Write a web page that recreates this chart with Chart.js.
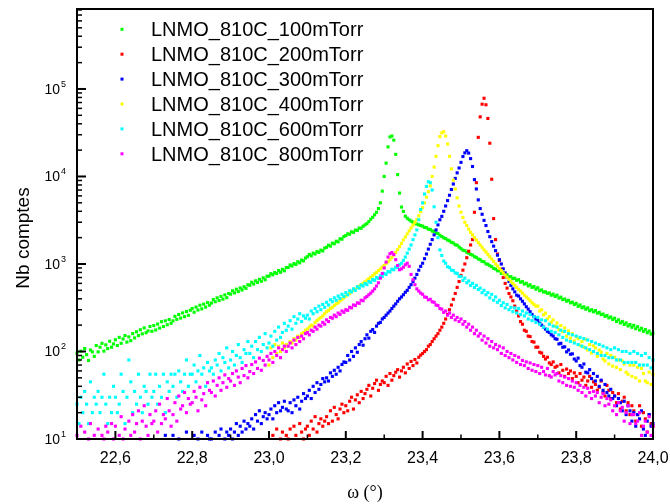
<!DOCTYPE html>
<html>
<head>
<meta charset="utf-8">
<script src="https://cdn.jsdelivr.net/npm/chart.js@4.4.1/dist/chart.umd.min.js"></script>
<style>
  html, body { margin: 0; padding: 0; background: #fff; }
  #wrap { width: 670px; height: 504px; }
</style>
</head>
<body>
<div id="wrap"><canvas id="rc" width="670" height="504"></canvas></div>
<script>
// ── SCAN GRID (omega, degrees) ───────────────────────────────────────────────
const omega = [
  22.500, 22.505, 22.510, 22.515, 22.520, 22.525, 22.530, 22.535, 22.540, 22.545,
  22.550, 22.555, 22.560, 22.565, 22.570, 22.575, 22.580, 22.585, 22.590, 22.595,
  22.600, 22.605, 22.610, 22.615, 22.620, 22.625, 22.630, 22.635, 22.640, 22.645,
  22.650, 22.655, 22.660, 22.665, 22.670, 22.675, 22.680, 22.685, 22.690, 22.695,
  22.700, 22.705, 22.710, 22.715, 22.720, 22.725, 22.730, 22.735, 22.740, 22.745,
  22.750, 22.755, 22.760, 22.765, 22.770, 22.775, 22.780, 22.785, 22.790, 22.795,
  22.800, 22.805, 22.810, 22.815, 22.820, 22.825, 22.830, 22.835, 22.840, 22.845,
  22.850, 22.855, 22.860, 22.865, 22.870, 22.875, 22.880, 22.885, 22.890, 22.895,
  22.900, 22.905, 22.910, 22.915, 22.920, 22.925, 22.930, 22.935, 22.940, 22.945,
  22.950, 22.955, 22.960, 22.965, 22.970, 22.975, 22.980, 22.985, 22.990, 22.995,
  23.000, 23.005, 23.010, 23.015, 23.020, 23.025, 23.030, 23.035, 23.040, 23.045,
  23.050, 23.055, 23.060, 23.065, 23.070, 23.075, 23.080, 23.085, 23.090, 23.095,
  23.100, 23.105, 23.110, 23.115, 23.120, 23.125, 23.130, 23.135, 23.140, 23.145,
  23.150, 23.155, 23.160, 23.165, 23.170, 23.175, 23.180, 23.185, 23.190, 23.195,
  23.200, 23.205, 23.210, 23.215, 23.220, 23.225, 23.230, 23.235, 23.240, 23.245,
  23.250, 23.255, 23.260, 23.265, 23.270, 23.275, 23.280, 23.285, 23.290, 23.295,
  23.300, 23.305, 23.310, 23.315, 23.320, 23.325, 23.330, 23.335, 23.340, 23.345,
  23.350, 23.355, 23.360, 23.365, 23.370, 23.375, 23.380, 23.385, 23.390, 23.395,
  23.400, 23.405, 23.410, 23.415, 23.420, 23.425, 23.430, 23.435, 23.440, 23.445,
  23.450, 23.455, 23.460, 23.465, 23.470, 23.475, 23.480, 23.485, 23.490, 23.495,
  23.500, 23.505, 23.510, 23.515, 23.520, 23.525, 23.530, 23.535, 23.540, 23.545,
  23.550, 23.555, 23.560, 23.565, 23.570, 23.575, 23.580, 23.585, 23.590, 23.595,
  23.600, 23.605, 23.610, 23.615, 23.620, 23.625, 23.630, 23.635, 23.640, 23.645,
  23.650, 23.655, 23.660, 23.665, 23.670, 23.675, 23.680, 23.685, 23.690, 23.695,
  23.700, 23.705, 23.710, 23.715, 23.720, 23.725, 23.730, 23.735, 23.740, 23.745,
  23.750, 23.755, 23.760, 23.765, 23.770, 23.775, 23.780, 23.785, 23.790, 23.795,
  23.800, 23.805, 23.810, 23.815, 23.820, 23.825, 23.830, 23.835, 23.840, 23.845,
  23.850, 23.855, 23.860, 23.865, 23.870, 23.875, 23.880, 23.885, 23.890, 23.895,
  23.900, 23.905, 23.910, 23.915, 23.920, 23.925, 23.930, 23.935, 23.940, 23.945,
  23.950, 23.955, 23.960, 23.965, 23.970, 23.975, 23.980, 23.985, 23.990, 23.995,
  24.000
];

// ── COUNTS PER SAMPLE (each series starts at its own omega) ─────────────────
// 100 mTorr, from 22.500
const p100 = [
  96, 80, 101, 86, 108, 92, 79, 104, 99, 88,
  117, 99, 112, 124, 101, 119, 108, 131, 112, 122,
  136, 117, 145, 124, 139, 152, 128, 147, 133, 160,
  143, 168, 152, 177, 159, 186, 164, 172, 193, 170,
  198, 176, 206, 185, 219, 193, 224, 202, 232, 210,
  224, 252, 233, 265, 241, 276, 250, 287, 259, 296,
  310, 281, 322, 298, 338, 307, 348, 322, 362, 338,
  358, 392, 370, 410, 382, 426, 396, 443, 412, 460,
  452, 494, 468, 515, 484, 532, 505, 550, 526, 578,
  572, 618, 590, 642, 614, 668, 635, 694, 660, 724,
  726, 775, 752, 800, 778, 842, 805, 868, 836, 910,
  912, 975, 948, 1010, 986, 1062, 1030, 1110, 1085, 1170,
  1210, 1285, 1240, 1330, 1300, 1390, 1356, 1440, 1410, 1520,
  1550, 1640, 1600, 1730, 1700, 1820, 1790, 1940, 1920, 2060,
  2110, 2210, 2190, 2330, 2300, 2440, 2420, 2570, 2560, 2700,
  2800, 2890, 3050, 3250, 3420, 3650, 3900, 4300, 5000, 6800,
  10000, 14200, 21800, 28300, 29000, 26000, 17900, 10500, 6460, 4470,
  3990, 3520, 3330, 3200, 3090, 3010, 2930, 2860, 2800, 2750,
  2710, 2620, 2600, 2500, 2480, 2380, 2360, 2260, 2230, 2130,
  2060, 1990, 1950, 1880, 1840, 1770, 1740, 1660, 1640, 1560,
  1500, 1440, 1420, 1360, 1330, 1290, 1265, 1210, 1190, 1140,
  1120, 1070, 1060, 1005, 990, 955, 930, 890, 875, 835,
  840, 780, 795, 748, 752, 712, 716, 680, 688, 650,
  662, 620, 628, 590, 602, 562, 578, 540, 552, 515,
  535, 495, 505, 478, 480, 462, 466, 440, 452, 425,
  440, 408, 418, 392, 398, 376, 384, 360, 366, 344,
  355, 328, 340, 316, 324, 304, 314, 292, 300, 284,
  294, 274, 280, 264, 268, 252, 258, 242, 248, 232,
  240, 220, 230, 212, 220, 204, 212, 196, 203, 189,
  199, 182, 192, 176, 184, 170, 178, 164, 171, 158,
  162
];

// 200 mTorr, from 23.000
const p200 = [
  9, 6, 11, 8, 13, 7, 10, 12, 8, 11,
  10, 13, 9, 14, 11, 8, 15, 12, 10, 13,
  14, 11, 16, 13, 18, 12, 15, 17, 14, 16,
  18, 15, 21, 16, 23, 19, 17, 22, 25, 20,
  24, 21, 27, 30, 22, 28, 32, 26, 35, 29,
  33, 37, 41, 31, 38, 43, 47, 36, 42, 46,
  44, 52, 41, 56, 47, 53, 58, 62, 51, 60,
  66, 57, 72, 64, 77, 69, 81, 74, 86, 91,
  95, 100, 105, 115, 120, 130, 140, 150, 160, 175,
  190, 210, 235, 265, 300, 340, 395, 460, 540, 630,
  740, 850, 1000, 1180, 1400, 1650, 1900, 3900, 8500, 28000,
  48000, 67000, 78300, 66000, 46000, 24000, 9300, 3300, 1900, 1300,
  1100, 870, 700, 600, 530, 460, 420, 380, 330, 290,
  255, 220, 205, 175, 170, 150, 148, 130, 128, 112,
  112, 98, 96, 88, 82, 86, 74, 71, 76, 66,
  68, 57, 71, 61, 52, 63, 56, 60, 49, 57,
  52, 44, 56, 47, 51, 41, 46, 52, 39, 45,
  42, 36, 39, 46, 34, 31, 41, 36, 29, 34,
  31, 26, 33, 22, 27, 30, 21, 26, 19, 24,
  21, 16, 19, 24, 14, 20, 17, 12, 19, 15,
  14
];

// 300 mTorr, from 22.700
const p300 = [
  6, 8, 5, 7, 9, 6, 11, 7, 5, 8,
  11, 6, 8, 10, 7, 9, 6, 12, 8, 7,
  9, 11, 7, 10, 8, 12, 9, 7, 11, 10,
  10, 8, 12, 9, 11, 13, 8, 10, 12, 11,
  13, 10, 12, 15, 11, 14, 12, 16, 13, 15,
  14, 17, 13, 19, 16, 21, 15, 18, 20, 17,
  19, 22, 17, 24, 20, 26, 21, 23, 27, 22,
  21, 26, 20, 28, 24, 30, 22, 27, 33, 29,
  31, 36, 29, 40, 34, 44, 37, 42, 49, 45,
  50, 46, 57, 52, 61, 55, 66, 60, 71, 76,
  75, 90, 80, 100, 88, 110, 98, 120, 130, 118,
  140, 155, 142, 170, 178, 165, 195, 210, 215, 235,
  245, 260, 275, 290, 310, 330, 350, 375, 400, 420,
  445, 475, 500, 540, 580, 630, 690, 760, 850, 940,
  1020, 1150, 1300, 1480, 1680, 1900, 2150, 2450, 2800, 3200,
  3500, 4000, 4600, 5300, 6100, 7100, 8200, 9500, 11000, 12500,
  14500, 16900, 18600, 19700, 18500, 16000, 13000, 9200, 7200, 5400,
  4300, 3700, 3150, 2750, 2350, 2050, 1800, 1600, 1420, 1260,
  1120, 1000, 880, 790, 700, 630, 570, 520, 480, 440,
  430, 400, 375, 350, 325, 305, 285, 265, 250, 235,
  225, 210, 200, 190, 180, 170, 165, 155, 150, 140,
  138, 122, 124, 112, 113, 99, 104, 93, 94, 82,
  78, 84, 69, 66, 72, 58, 57, 62, 49, 56,
  46, 52, 40, 47, 36, 42, 34, 31, 37, 29,
  31, 24, 29, 26, 21, 27, 19, 24, 21, 16,
  20, 14, 19, 17, 21, 13, 11, 16, 19, 14,
  15
];

// 400 mTorr, from 23.000
const p400 = [
  70, 110, 85, 120, 95, 115, 100, 125, 110, 120,
  115, 130, 125, 140, 135, 150, 145, 160, 165, 175,
  180, 190, 200, 195, 215, 225, 235, 245, 255, 270,
  285, 295, 310, 320, 335, 350, 360, 380, 395, 410,
  430, 445, 460, 480, 500, 515, 540, 560, 580, 600,
  625, 650, 680, 705, 735, 770, 800, 840, 880, 920,
  960, 1010, 1060, 1120, 1190, 1270, 1360, 1460, 1580, 1720,
  1880, 2040, 2210, 2390, 2580, 2780, 2990, 3220, 3550, 3950,
  4400, 5000, 5800, 6700, 7800, 10000, 12800, 17000, 22500, 28500,
  31500, 32500, 29000, 23500, 17000, 12200, 9100, 7200, 5700, 4600,
  3900, 3400, 3000, 2750, 2500, 2300, 2150, 2000, 1880, 1760,
  1650, 1550, 1450, 1370, 1290, 1210, 1140, 1070, 1000, 950,
  890, 840, 790, 750, 705, 665, 630, 600, 570, 540,
  510, 490, 465, 440, 420, 400, 380, 360, 345, 330,
  330, 290, 300, 262, 275, 236, 250, 216, 230, 196,
  212, 178, 198, 168, 186, 150, 172, 142, 160, 132,
  148, 140, 118, 130, 112, 138, 104, 120, 96, 116,
  110, 88, 104, 98, 82, 78, 95, 72, 90, 68,
  86, 66, 80, 62, 78, 72, 58, 55, 70, 52,
  70, 50, 66, 46, 64, 56, 46, 44, 58, 42,
  55
];

// 600 mTorr, from 22.500
const p600 = [
  25, 15, 30, 20, 35, 25, 15, 45, 20, 30,
  25, 35, 20, 30, 55, 25, 15, 30, 20, 40,
  30, 20, 25, 55, 35, 15, 30, 80, 45, 20,
  35, 25, 55, 30, 20, 40, 35, 25, 55, 30,
  35, 55, 25, 40, 30, 55, 20, 45, 35, 55,
  40, 55, 30, 60, 45, 35, 55, 80, 40, 55,
  55, 70, 45, 60, 90, 55, 65, 40, 75, 60,
  65, 55, 80, 70, 95, 60, 85, 75, 110, 65,
  80, 100, 70, 90, 120, 85, 75, 105, 95, 130,
  95, 115, 85, 130, 105, 145, 100, 120, 160, 110,
  125, 150, 115, 170, 135, 190, 145, 165, 210, 175,
  195, 225, 180, 250, 210, 235, 270, 220, 255, 240,
  260, 235, 290, 270, 310, 285, 330, 300, 345, 320,
  365, 340, 390, 370, 410, 385, 430, 405, 450, 425,
  470, 445, 495, 480, 520, 500, 550, 530, 575, 560,
  600, 580, 630, 615, 665, 650, 700, 685, 735, 720,
  780, 760, 820, 810, 870, 860, 920, 910, 980, 1020,
  1100, 1200, 1330, 1480, 1650, 1900, 2150, 2450, 3200, 4200,
  5000, 6300, 7700, 8700, 8500, 7000, 4500, 3000, 2000, 1450,
  1250, 1080, 1020, 930, 910, 850, 840, 790, 780, 720,
  720, 650, 690, 610, 640, 570, 600, 540, 570, 510,
  530, 470, 500, 445, 470, 410, 450, 385, 420, 365,
  385, 335, 360, 315, 345, 300, 320, 285, 315, 275,
  310, 265, 290, 255, 275, 235, 265, 225, 250, 215,
  245, 205, 230, 190, 225, 180, 205, 170, 195, 165,
  190, 155, 175, 145, 170, 135, 160, 130, 155, 125,
  150, 120, 145, 115, 140, 110, 135, 105, 130, 100,
  125, 95, 120, 90, 115, 90, 110, 85, 105, 85,
  110, 80, 105, 80, 100, 75, 100, 75, 95, 75,
  100, 75, 95, 70, 90, 70, 95, 70, 85, 65,
  80
];

// 800 mTorr, from 22.500
const p800 = [
  11, 7, 14, 9, 12, 6, 10, 15, 8, 11,
  9, 13, 7, 11, 10, 14, 12, 6, 15, 10,
  14, 9, 11, 18, 10, 13, 7, 16, 11, 19,
  12, 15, 21, 10, 16, 24, 14, 11, 19, 15,
  16, 21, 12, 25, 15, 19, 17, 29, 21, 14,
  19, 26, 16, 31, 22, 24, 34, 20, 29, 25,
  26, 35, 30, 21, 39, 28, 33, 24, 44, 36,
  34, 46, 31, 41, 50, 36, 44, 54, 39, 49,
  46, 56, 41, 60, 51, 44, 64, 53, 69, 50,
  59, 71, 56, 76, 64, 84, 61, 79, 70, 88,
  80, 95, 75, 100, 90, 110, 85, 105, 115, 100,
  115, 125, 110, 135, 120, 145, 130, 150, 140, 160,
  165, 155, 175, 170, 190, 180, 200, 195, 215, 205,
  230, 220, 245, 240, 260, 250, 275, 265, 290, 280,
  300, 295, 320, 315, 340, 335, 360, 355, 385, 380,
  410, 425, 445, 465, 490, 520, 560, 610, 690, 780,
  900, 1050, 1200, 1310, 1350, 1280, 1120, 960, 860, 880,
  920, 980, 1020, 940, 760, 660, 580, 520, 490, 465,
  450, 420, 415, 390, 395, 370, 365, 340, 335, 310,
  305, 280, 290, 260, 275, 245, 260, 230, 245, 220,
  235, 205, 220, 190, 205, 175, 190, 160, 175, 150,
  160, 135, 150, 125, 140, 115, 130, 110, 120, 105,
  115, 95, 110, 90, 100, 85, 95, 80, 90, 75,
  86, 71, 79, 69, 76, 64, 74, 61, 71, 59,
  69, 56, 66, 59, 54, 64, 53, 51, 59, 54,
  56, 46, 53, 44, 51, 41, 49, 40, 46, 39,
  44, 36, 41, 34, 39, 31, 38, 34, 29, 35,
  31, 34, 26, 30, 33, 24, 29, 25, 28, 21,
  24, 19, 26, 21, 23, 16, 20, 24, 15, 19,
  19, 15, 16, 20, 11, 14, 16, 12, 18, 11,
  14
];

const labels = [
  'LNMO_810C_100mTorr', 'LNMO_810C_200mTorr', 'LNMO_810C_300mTorr',
  'LNMO_810C_400mTorr', 'LNMO_810C_600mTorr', 'LNMO_810C_800mTorr'
];
const colors  = ['#00ff00', '#ff0000', '#0000ff', '#ffff00', '#00ffff', '#ff00ff'];
const starts  = [22.5, 23.0, 22.7, 23.0, 22.5, 22.5];
const counts  = [p100, p200, p300, p400, p600, p800];

const xTicks = [22.6, 22.8, 23.0, 23.2, 23.4, 23.6, 23.8, 24.0];

const SANS  = "'Liberation Sans', Arial, sans-serif";
const SERIF = "'Liberation Serif', 'Times New Roman', serif";

const datasets = counts.map((arr, k) => {
  const i0 = omega.indexOf(starts[k]);
  return {
    label: labels[k],
    data: arr.map((c, i) => ({ x: omega[i0 + i], y: c })),
    backgroundColor: colors[k],
    borderColor: colors[k],
    pointStyle: 'rect',
    pointRadius: 2.2,
    pointBorderWidth: 0,
    order: 6 - k,
    clip: 2,
  };
});

// ── FRAME, TICKS, LABELS, LEGEND ────────────────────────────────────────────
const decorations = {
  id: 'decorations',
  afterDraw(chart) {
    const { ctx, chartArea: a, scales: { x, y } } = chart;
    ctx.save();
    ctx.strokeStyle = '#000';
    ctx.fillStyle = '#000';

    // y ticks: decades long, 2..9 short, all pointing inward
    for (let n = 1; n <= 5; n++) {
      for (let m = 1; m <= 9; m++) {
        const v = m * Math.pow(10, n);
        if (v > y.max) break;
        const py = y.getPixelForValue(v);
        ctx.lineWidth = m === 1 ? 2 : 1.5;
        ctx.beginPath();
        ctx.moveTo(a.left, py);
        ctx.lineTo(a.left + (m === 1 ? 9 : 5), py);
        ctx.stroke();
      }
    }

    // x ticks every 0.1, labelled every 0.2
    for (const t of x.ticks) {
      const px = x.getPixelForValue(t.value);
      const major = xTicks.some(v => Math.abs(v - t.value) < 1e-6);
      ctx.lineWidth = major ? 2 : 1.5;
      ctx.beginPath();
      ctx.moveTo(px, a.bottom);
      ctx.lineTo(px, a.bottom - (major ? 8 : 4.5));
      ctx.stroke();
    }

    ctx.textAlign = 'center';
    ctx.textBaseline = 'alphabetic';
    ctx.font = '16px ' + SANS;
    for (const v of xTicks) {
      ctx.fillText(v.toFixed(1).replace('.', ','), x.getPixelForValue(v), 463);
    }

    // y labels as 10 with a raised exponent
    for (let n = 1; n <= 5; n++) {
      const py = y.getPixelForValue(Math.pow(10, n));
      ctx.textAlign = 'right';
      ctx.font = '14px ' + SANS;
      ctx.fillText('10', 60, py + 5);
      ctx.textAlign = 'left';
      ctx.font = '9px ' + SANS;
      ctx.fillText(String(n), 61, py - 2);
    }

    // frame
    ctx.lineWidth = 2;
    ctx.strokeRect(a.left, a.top, a.right - a.left, a.bottom - a.top);

    // axis titles
    ctx.textAlign = 'center';
    ctx.font = '18px ' + SERIF;
    ctx.fillText('\u03c9 (\u00b0)', (a.left + a.right) / 2, 497.5);

    ctx.save();
    ctx.translate(29, 238);
    ctx.rotate(-Math.PI / 2);
    ctx.font = '19px ' + SANS;
    ctx.fillText('Nb comptes', 0, 0);
    ctx.restore();

    // legend
    ctx.textAlign = 'left';
    ctx.font = '20px ' + SANS;
    chart.data.datasets.forEach((ds, k) => {
      const base = 36 + k * 24.9;
      ctx.fillStyle = ds.backgroundColor;
      ctx.fillRect(120.5, base - 8.2, 3, 3);
      ctx.fillStyle = '#000';
      ctx.fillText(ds.label, 151, base);
    });

    ctx.restore();
  }
};

new Chart(document.getElementById('rc'), {
  type: 'scatter',
  data: { datasets },
  options: {
    responsive: false,
    devicePixelRatio: 1,
    animation: false,
    events: [],
    layout: { padding: { top: 9, right: 17, left: 0, bottom: 0 } },
    plugins: { legend: { display: false }, tooltip: { enabled: false } },
    scales: {
      x: {
        type: 'linear', min: 22.5, max: 24.0,
        grid: { display: false }, border: { display: false },
        ticks: { display: false, stepSize: 0.1, autoSkip: false },
        afterFit: s => { s.height = 65; },
      },
      y: {
        type: 'logarithmic', min: 10, max: 820000,
        grid: { display: false }, border: { display: false },
        ticks: { display: false, autoSkip: false },
        afterFit: s => { s.width = 77; },
      }
    }
  },
  plugins: [decorations]
});
</script>
</body>
</html>
